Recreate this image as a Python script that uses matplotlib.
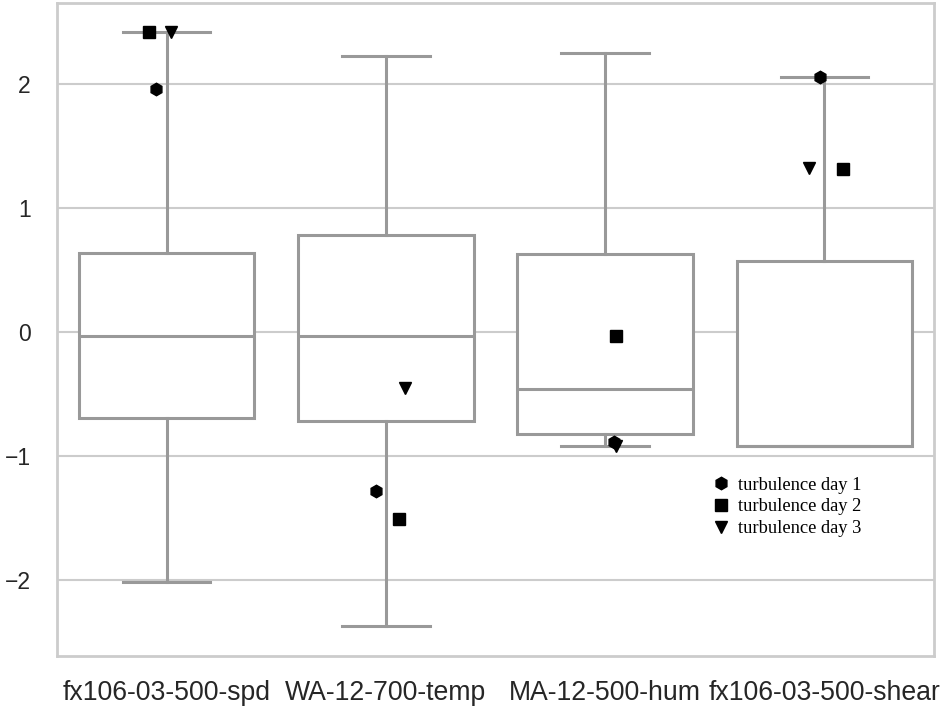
import numpy as np
import matplotlib.pyplot as plt
from matplotlib.lines import Line2D

# variabel dan statistik box
variabel = ['fx106-03-500-spd', 'WA-12-700-temp', 'MA-12-500-hum', 'fx106-03-500-shear']
whis_atas = [2.42, 2.22, 2.25, 2.05]
q3 = [0.64, 0.78, 0.63, 0.57]
median = [-0.03, -0.03, -0.46, -0.915]
q1 = [-0.69, -0.715, -0.825, -0.915]
whis_bawah = [-2.01, -2.37, -0.92, -0.915]

# nilai hari turbulensi per variabel
hari1 = [1.96, -1.28, -0.89, 2.05]
hari2 = [2.42, -1.51, -0.03, 1.31]
hari3 = [2.42, -0.45, -0.915, 1.32]
# geseran horizontal (jitter) titik
geser1 = [-0.05, -0.045, 0.04, -0.02]
geser2 = [-0.08, 0.06, 0.05, 0.086]
geser3 = [0.02, 0.086, 0.05, -0.07]
label_hari = ['turbulence day 1', 'turbulence day 2', 'turbulence day 3']

plt.rcParams['font.family'] = ['Liberation Sans', 'DejaVu Sans']

fig = plt.figure(figsize=(9.43, 7.08), dpi=100)
ax = fig.add_axes([0.0604, 0.0734, 0.9301, 0.9224])

stats = []
for i in range(len(variabel)):
    stats.append({'whislo': whis_bawah[i], 'q1': q1[i], 'med': median[i],
                  'q3': q3[i], 'whishi': whis_atas[i], 'fliers': []})

abu = '#999999'
ax.bxp(stats, positions=range(len(variabel)), widths=0.8, patch_artist=True,
       boxprops=dict(facecolor='white', edgecolor=abu, linewidth=2.2),
       medianprops=dict(color=abu, linewidth=2.2),
       whiskerprops=dict(color=abu, linewidth=2.2),
       capprops=dict(color=abu, linewidth=2.2), capwidths=0.4, zorder=2)

x = np.arange(len(variabel))
ms = 9
ax.plot(x + np.array(geser1), hari1, 'h', color='black', ms=ms, ls='none', zorder=3)
ax.plot(x + np.array(geser2), hari2, 's', color='black', ms=ms * 0.9, ls='none', zorder=3)
ax.plot(x + np.array(geser3), hari3, 'v', color='black', ms=ms, ls='none', zorder=3)

ax.set_xlim(-0.5, len(variabel) - 0.5)
ax.set_ylim(-2.61, 2.65)
ax.set_yticks([-2, -1, 0, 1, 2])
ax.set_yticklabels(['\u22122', '\u22121', '0', '1', '2'])
ax.set_xticks(x)
ax.set_xticklabels(variabel)
ax.tick_params(axis='both', length=0, colors='#262626')
ax.tick_params(axis='x', pad=17, labelsize=19.2)
ax.tick_params(axis='y', pad=19, labelsize=16.5)
ax.yaxis.grid(True, color='#cccccc', linewidth=1.5, zorder=0)
ax.set_axisbelow(True)
for sp in ax.spines.values():
    sp.set_color('#cccccc')
    sp.set_linewidth(2)

handles = [Line2D([], [], marker=m, color='black', ls='none', ms=ms)
           for m in ['h', 's', 'v']]
ax.legend(handles, label_hari, loc='upper left', bbox_to_anchor=(0.726, 0.3),
          frameon=False, handletextpad=0.3, labelspacing=0.25, handlelength=1.2,
          prop={'family': 'Liberation Serif', 'size': 13.3})

fig.savefig('out.png', dpi=100)
